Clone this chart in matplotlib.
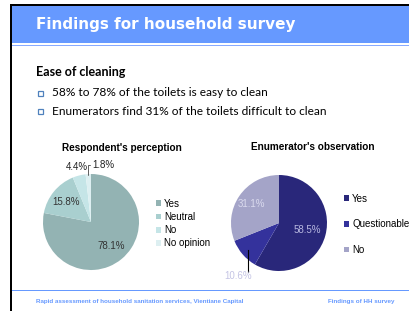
import numpy as np
import matplotlib
matplotlib.use('Agg')
import matplotlib.pyplot as plt
from matplotlib.patches import Rectangle

W, H = 409, 311

# Slide text
title = 'Findings for household survey'
heading = 'Ease of cleaning'
bullets = ['58% to 78% of the toilets is easy to clean',
           'Enumerators find 31% of the toilets difficult to clean']
footer_left = 'Rapid assessment of household sanitation services, Vientiane Capital'
footer_right = 'Findings of HH survey'

# Chart data
resp_title = "Respondent's perception"
resp_labels = ['Yes', 'Neutral', 'No', 'No opinion']
resp_values = [78.1, 15.8, 4.4, 1.8]
resp_colors = ['#93B3B3', '#A9CFCF', '#C5E5E7', '#DDEFF1']

enum_title = "Enumerator's observation"
enum_labels = ['Yes', 'Questionable', 'No']
enum_values = [58.5, 10.6, 31.1]
enum_colors = ['#29277A', '#34329C', '#A4A4C8']

BLUE = '#6699FF'
SANS = 'Liberation Sans'
BODY = 'Lato'

fig = plt.figure(figsize=(W / 100, H / 100), dpi=100)
bg = fig.add_axes([0, 0, 1, 1])
bg.set_xlim(0, W)
bg.set_ylim(H, 0)
bg.axis('off')

# slide frame + title bar
bg.add_patch(Rectangle((10, 4), W - 10, 2, color='black', lw=0))
bg.add_patch(Rectangle((10, 4), 2, H - 4, color='black', lw=0))
bg.add_patch(Rectangle((12, 6), W - 12, 37, color=BLUE, lw=0))
bg.add_patch(Rectangle((12, 44.5), W - 12, 1.5, color='#88AAFF', lw=0))
bg.add_patch(Rectangle((12, 289.5), W - 12, 1.2, color=BLUE, lw=0))

bg.text(36, 25, title, color='white', fontsize=11, fontweight='bold',
        family='DejaVu Sans', va='center', ha='left')
bg.text(36, 72, heading, color='black', fontsize=9, fontweight='bold',
        family=BODY, va='center', ha='left')
for i, b in enumerate(bullets):
    y = 93 + i * 18.5
    bg.add_patch(Rectangle((37.5, y - 2.5), 5, 5, facecolor='white',
                           edgecolor='#4F81BD', lw=0.9))
    bg.text(52, y, b, color='black', fontsize=8.6, family=BODY,
            va='center', ha='left')

bg.text(36, 301, footer_left, color=BLUE, fontsize=4.5, fontweight='bold',
        family=SANS, va='center', ha='left')
bg.text(395, 301, footer_right, color=BLUE, fontsize=4.5, fontweight='bold',
        family=SANS, va='center', ha='right')


def pie_axes(cx, cy, r):
    return fig.add_axes([(cx - r) / W, 1 - (cy + r) / H, 2 * r / W, 2 * r / H])


def mid_xy(w, r):
    t = np.deg2rad((w.theta1 + w.theta2) / 2)
    return r * np.cos(t), r * np.sin(t)


# Respondent's perception
ax1 = pie_axes(91, 222, 48)
w1, _ = ax1.pie(resp_values, colors=resp_colors, startangle=90,
                counterclock=False, wedgeprops=dict(linewidth=0))
ax1.set_xlim(-1, 1)
ax1.set_ylim(-1, 1)
for i in (0, 1):
    x, y = mid_xy(w1[i], 0.66)
    ax1.text(x, y, f'{resp_values[i]}%', fontsize=7, family=SANS,
             color='#333333', ha='center', va='center')
x, y = mid_xy(w1[2], 1.18)
ax1.text(x, y, f'{resp_values[2]}%', fontsize=7, family=SANS,
         color='#222222', ha='center', va='center')
x, y = mid_xy(w1[3], 0.98)
ax1.annotate(f'{resp_values[3]}%', xy=(x, y), xytext=(0.26, 1.18),
             fontsize=7, family=SANS, color='#222222', ha='center', va='center',
             arrowprops=dict(arrowstyle='-', lw=0.6, color='#444444',
                             shrinkA=0, shrinkB=0,
                             connectionstyle='angle,angleA=0,angleB=90,rad=0'))
bg.text(122, 148, resp_title, fontsize=7.2, fontweight='bold', family=SANS,
        ha='center', va='center', color='black')
ax1.legend(w1, resp_labels, loc='upper left', bbox_to_anchor=(151 / W, 1 - 194 / H),
           bbox_transform=fig.transFigure, frameon=False, borderpad=0,
           prop=dict(family=SANS, size=7), handlelength=0.55, handleheight=0.55,
           handletextpad=0.3, labelspacing=0.32)

# Enumerator's observation
ax2 = pie_axes(279, 223, 48)
w2, _ = ax2.pie(enum_values, colors=enum_colors, startangle=90,
                counterclock=False, wedgeprops=dict(linewidth=0))
ax2.set_xlim(-1, 1)
ax2.set_ylim(-1, 1)
x, y = mid_xy(w2[0], 0.6)
ax2.text(x, y, f'{enum_values[0]}%', fontsize=7, family=SANS,
         color='#B8B8E0', ha='center', va='center')
x, y = mid_xy(w2[2], 0.7)
ax2.text(x, y, f'{enum_values[2]}%', fontsize=7, family=SANS,
         color='#DADAEE', ha='center', va='center')
x, y = mid_xy(w2[1], 0.86)
ax2.plot([x, x], [y, -1.02], color='black', lw=0.8, clip_on=False)
ax2.text(x - 0.2, -1.1, f'{enum_values[1]}%', fontsize=7, family=SANS,
         color='#C4C4E4', ha='center', va='center')
bg.text(313, 147, enum_title, fontsize=7.2, fontweight='bold', family=SANS,
        ha='center', va='center', color='black')
ax2.legend(w2, enum_labels, loc='upper left', bbox_to_anchor=(339 / W, 1 - 189 / H),
           bbox_transform=fig.transFigure, frameon=False, borderpad=0,
           prop=dict(family=SANS, size=7), handlelength=0.55, handleheight=0.55,
           handletextpad=0.3, labelspacing=1.6)

fig.savefig('out.png', dpi=100)
